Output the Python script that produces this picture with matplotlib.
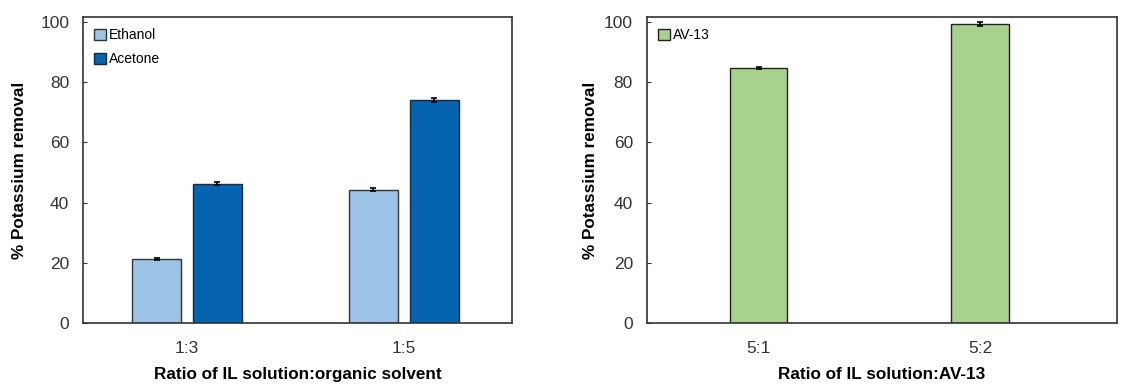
import matplotlib
matplotlib.use("Agg")
import matplotlib.pyplot as plt
import numpy as np

# left panel data
ratios_left = ["1:3", "1:5"]
ethanol = [21.2, 44.2]
ethanol_err = [0.4, 0.5]
acetone = [46.3, 74.0]
acetone_err = [0.4, 0.7]

# right panel data
ratios_right = ["5:1", "5:2"]
av13 = [84.8, 99.3]
av13_err = [0.4, 0.6]

plt.rcParams['font.family'] = ['Liberation Sans', 'DejaVu Sans']

fig = plt.figure(figsize=(11.23, 3.84), dpi=100)
ax1 = fig.add_axes([0.074, 0.159, 0.382, 0.797])
ax2 = fig.add_axes([0.576, 0.159, 0.419, 0.797])

x = np.arange(len(ratios_left))
w = 0.226
ax1.bar(x - 0.14, ethanol, w, yerr=ethanol_err, color="#9DC3E6", edgecolor="#333333",
        linewidth=1, capsize=2, error_kw=dict(elinewidth=1.2, capthick=1.2), label="Ethanol")
ax1.bar(x + 0.14, acetone, w, yerr=acetone_err, color="#0563AF", edgecolor="#1a2a40",
        linewidth=1, capsize=2, error_kw=dict(elinewidth=1.2, capthick=1.2), label="Acetone")
ax1.set_xticks(x)
ax1.set_xticklabels(ratios_left)
ax1.set_xlim(-0.48, 1.5)
ax1.set_xlabel("Ratio of IL solution:organic solvent", fontweight="bold", fontsize=12.3, labelpad=8)
ax1.yaxis.set_label_coords(-0.13, 0.5)

x2 = np.arange(len(ratios_right))
ax2.bar(x2, av13, 0.26, yerr=av13_err, color="#A9D18E", edgecolor="#222222",
        linewidth=1, capsize=2, error_kw=dict(elinewidth=1.2, capthick=1.2), label="AV-13")
ax2.set_xticks(x2)
ax2.set_xticklabels(ratios_right)
ax2.set_xlim(-0.505, 1.62)
ax2.set_xlabel("Ratio of IL solution:AV-13", fontweight="bold", fontsize=12.3, labelpad=8)
ax2.yaxis.set_label_coords(-0.104, 0.5)

for ax in (ax1, ax2):
    ax.set_ylim(0, 101.7)
    ax.set_yticks([0, 20, 40, 60, 80, 100])
    ax.set_ylabel("% Potassium removal", fontweight="bold", fontsize=12.3)
    ax.tick_params(axis="y", direction="in", length=3, labelsize=12.5, pad=10, colors="#333333")
    ax.tick_params(axis="x", length=0, labelsize=12.5, pad=13, colors="#333333")
    for s in ax.spines.values():
        s.set_color("#333333")
        s.set_linewidth(1.2)
    ax.legend(loc="upper left", fontsize=10, frameon=False, handlelength=0.85, handleheight=0.85,
              handletextpad=0.2, borderaxespad=0.4, labelspacing=0.75)

fig.savefig("out.png", dpi=100)
